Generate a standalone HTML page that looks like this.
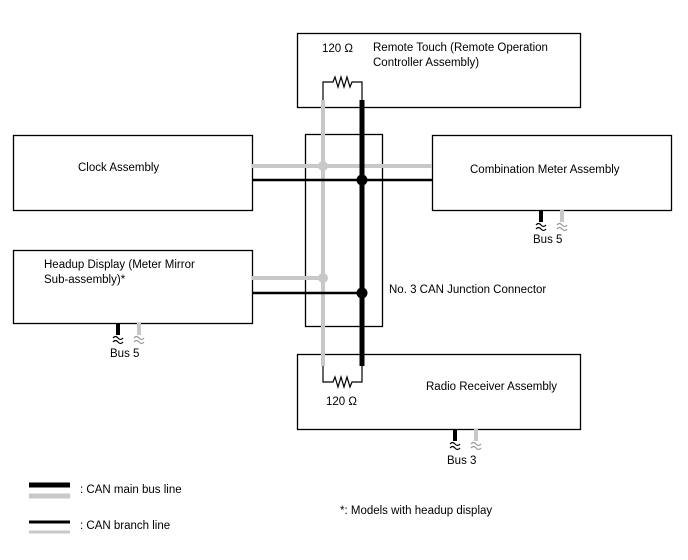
<!DOCTYPE html>
<html><head><style>body{margin:0;background:#fff}svg{display:block}text{font-family:"Liberation Sans",sans-serif;font-size:11.5px;fill:#000}</style></head><body>
<svg width="688" height="560" viewBox="0 0 688 560">
<defs>
<path id="w" d="M-5,0 q2.5,-3 5,0 t5,0 M-5,4 q2.5,-3 5,0 t5,0" fill="none" stroke-width="1.2"/>
</defs>
<g fill="#fff" stroke="#000" stroke-width="1.3">
<rect x="297.5" y="33.5" width="283" height="74"/>
<rect x="13.5" y="135.5" width="239" height="75"/>
<rect x="432.5" y="135.5" width="239" height="75"/>
<rect x="13.5" y="250.5" width="239" height="73"/>
<rect x="297.5" y="354.5" width="283" height="75"/>
<rect x="305.5" y="134.5" width="77" height="192" fill="none"/>
</g>
<g stroke="#c8c8c8" stroke-width="4" fill="none">
<line x1="323" y1="100" x2="323" y2="366"/>
<line x1="252" y1="166" x2="432" y2="166"/>
<line x1="252" y1="278" x2="323" y2="278"/>
<line x1="139" y1="323" x2="139" y2="335"/>
<line x1="562" y1="210" x2="562" y2="222"/>
<line x1="476" y1="429" x2="476" y2="441"/>
</g>
<circle cx="323" cy="166" r="5" fill="#c8c8c8"/>
<circle cx="323" cy="278" r="5" fill="#c8c8c8"/>
<g stroke="#000" fill="none">
<line x1="362" y1="100" x2="362" y2="366" stroke-width="5"/>
<line x1="252" y1="180" x2="432" y2="180" stroke-width="2.5"/>
<line x1="252" y1="293" x2="362" y2="293" stroke-width="2.5"/>
<line x1="118" y1="323" x2="118" y2="335" stroke-width="4"/>
<line x1="541" y1="210" x2="541" y2="222" stroke-width="4"/>
<line x1="455" y1="429" x2="455" y2="441" stroke-width="4"/>
<polyline stroke-width="1.2" points="323,100 323,82 333,82 335,77 338,87 341,77 344,87 347,77 350,87 352,82 362,82 362,100"/>
<polyline stroke-width="1.2" points="323,366 323,382 333,382 335,377 338,387 341,377 344,387 347,377 350,387 352,382 362,382 362,366"/>
</g>
<g stroke="#000"><use href="#w" x="541" y="225"/><use href="#w" x="118" y="338"/><use href="#w" x="455" y="444"/></g>
<g stroke="#999"><use href="#w" x="562" y="225"/><use href="#w" x="139" y="338"/><use href="#w" x="476" y="444"/></g>
<circle cx="362" cy="180" r="5.5"/>
<circle cx="362" cy="293" r="5.5"/>
<text x="533" y="243">Bus 5</text>
<text x="110" y="357">Bus 5</text>
<text x="447" y="464">Bus 3</text>
<text x="322" y="52">120 Ω</text>
<text x="373" y="51">Remote Touch (Remote Operation</text>
<text x="373" y="66">Controller Assembly)</text>
<text x="78" y="171">Clock Assembly</text>
<text x="470" y="173">Combination Meter Assembly</text>
<text x="44" y="268">Headup Display (Meter Mirror</text>
<text x="44" y="283">Sub-assembly)*</text>
<text x="389" y="293">No. 3 CAN Junction Connector</text>
<text x="426" y="390">Radio Receiver Assembly</text>
<text x="326" y="405">120 Ω</text>
<line x1="29" y1="485" x2="70" y2="485" stroke="#000" stroke-width="5"/>
<line x1="29" y1="496" x2="70" y2="496" stroke="#c8c8c8" stroke-width="5"/>
<line x1="29" y1="522" x2="70" y2="522" stroke="#000" stroke-width="3"/>
<line x1="29" y1="532" x2="70" y2="532" stroke="#c8c8c8" stroke-width="3"/>
<text x="80" y="493">: CAN main bus line</text>
<text x="80" y="529">: CAN branch line</text>
<text x="340" y="514">*: Models with headup display</text>
</svg>
</body></html>
